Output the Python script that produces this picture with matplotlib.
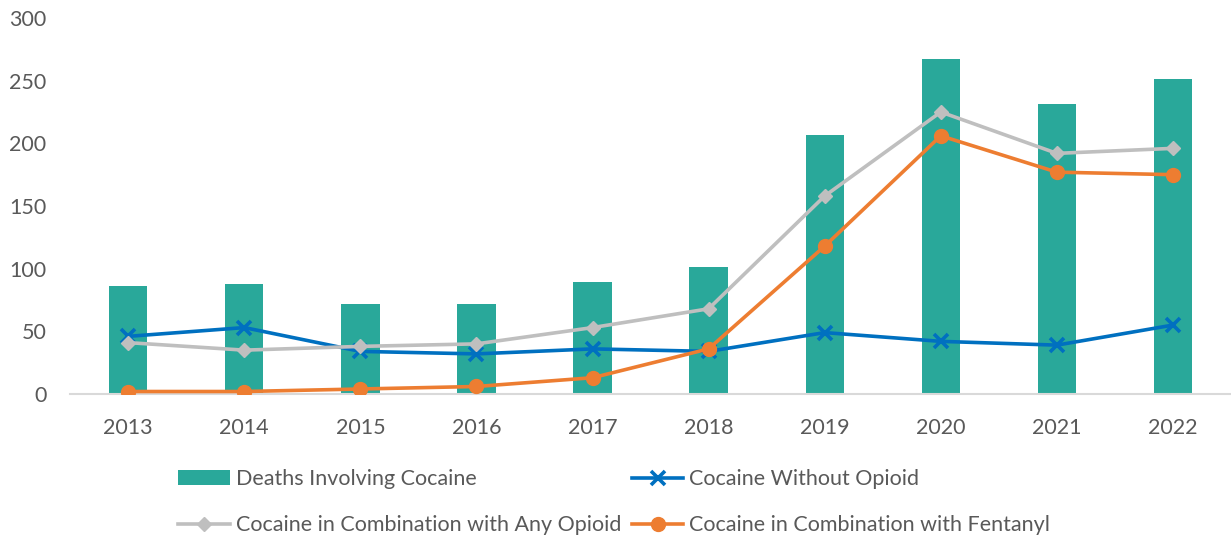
import numpy as np
import matplotlib
matplotlib.use('Agg')
import matplotlib.pyplot as plt

years = ['2013', '2014', '2015', '2016', '2017', '2018', '2019', '2020', '2021', '2022']
deaths_cocaine = [86, 88, 72, 72, 89, 101, 207, 267, 231, 251]
without_opioid = [46, 53, 34, 32, 36, 34, 49, 42, 39, 55]
any_opioid = [41, 35, 38, 40, 53, 68, 158, 225, 192, 196]
with_fentanyl = [2, 2, 4, 6, 13, 36, 118, 206, 177, 175]

plt.rcParams['font.family'] = ['Lato', 'DejaVu Sans']
txt = '#595959'
fs = 15.5

fig = plt.figure(figsize=(12.31, 5.39), dpi=100)
ax = fig.add_axes([0.057, 0.269, 0.943, 0.6976])

x = np.arange(len(years))
ax.bar(x, deaths_cocaine, width=0.33, color='#29A89A', label='Deaths Involving Cocaine', zorder=2)
ax.plot(x, without_opioid, color='#0070C0', lw=2.6, marker='x', ms=10, mew=2.6,
        label='Cocaine Without Opioid', zorder=3)
ax.plot(x, any_opioid, color='#BFBFBF', lw=2.6, marker='D', ms=7,
        label='Cocaine in Combination with Any Opioid', zorder=3)
ax.plot(x, with_fentanyl, color='#ED7D31', lw=2.6, marker='o', ms=10,
        label='Cocaine in Combination with Fentanyl', zorder=4)

ax.set_xlim(-0.5, len(years) - 0.5)
ax.set_ylim(0, 300)
ax.set_yticks(np.arange(0, 301, 50))
ax.set_xticks(x)
ax.set_xticklabels(years)
ax.tick_params(axis='both', length=0, labelsize=fs, colors=txt)
ax.tick_params(axis='x', pad=17)
ax.tick_params(axis='y', pad=17)
for s in ['top', 'right', 'left']:
    ax.spines[s].set_visible(False)
ax.spines['bottom'].set_color('#D9D9D9')
ax.spines['bottom'].set_linewidth(1.5)

h, l = ax.get_legend_handles_labels()
order = [3, 1, 0, 2]
h = [h[i] for i in order]
l = [l[i] for i in order]
fig.legend(h, l, ncol=2, loc='upper left', bbox_to_anchor=(0.138, 0.145), frameon=False,
           fontsize=fs, labelcolor=txt, handlelength=2.4, handletextpad=0.25,
           columnspacing=0.5, labelspacing=1.2, borderaxespad=0)

fig.savefig('out.png', dpi=100)
